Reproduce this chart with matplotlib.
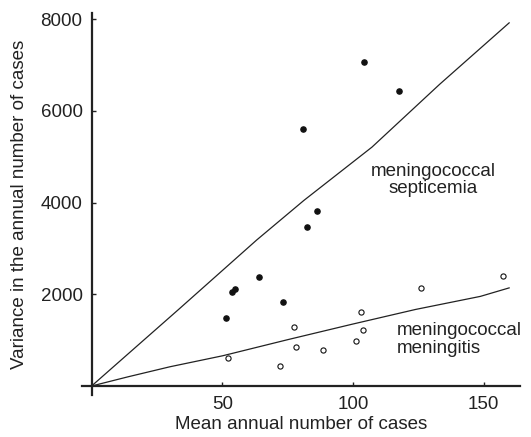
import matplotlib.pyplot as plt

plt.rcParams['font.family'] = ['Liberation Sans', 'DejaVu Sans']

# Meningococcal septicemia (filled points)
sept_mean = [104.3, 117.8, 80.8, 86.4, 82.4, 63.9, 53.6, 55.0, 73.4, 51.6]
sept_var = [7070, 6430, 5600, 3810, 3470, 2380, 2050, 2110, 1835, 1490]

# Meningococcal meningitis (open points)
men_mean = [157.3, 126.0, 103.0, 104.0, 77.6, 101.2, 78.2, 88.6, 52.3, 72.3]
men_var = [2400, 2145, 1610, 1215, 1285, 980, 850, 780, 605, 435]

# Fitted curves
sept_fit_x = [0, 33.3, 63.2, 81.3, 107.3, 133.2, 159.8]
sept_fit_y = [0, 1670, 3185, 4050, 5210, 6580, 7920]
men_fit_x = [0, 13.9, 30, 50.2, 75, 99.5, 124, 148.8, 159.8]
men_fit_y = [0, 200, 420, 660, 1010, 1345, 1670, 1955, 2140]

fig = plt.figure(figsize=(5.31, 4.37), dpi=100)
ax = fig.add_axes([0.154, 0.0961, 0.825, 0.8735])

ax.plot(sept_fit_x, sept_fit_y, color='#222222', lw=0.9)
ax.plot(men_fit_x, men_fit_y, color='#222222', lw=0.9)
ax.scatter(sept_mean, sept_var, s=14, color='#111111', zorder=3)
ax.scatter(men_mean, men_var, s=14, facecolor='white', edgecolor='#111111',
           linewidths=0.8, zorder=3)

ax.text(130.6, 4490, 'meningococcal\nsepticemia', ha='center', va='center',
        fontsize=13.5, color='#222222', linespacing=1.05)
ax.text(116.9, 1020, 'meningococcal\nmeningitis', ha='left', va='center',
        fontsize=13.5, color='#222222', linespacing=1.05)

ax.set_xlim(-3.75, 163.9)
ax.set_ylim(-196, 8129)
for side in ['top', 'right']:
    ax.spines[side].set_visible(False)
ax.spines['left'].set_position(('data', 0))
ax.spines['bottom'].set_position(('data', 0))
for side in ['left', 'bottom']:
    ax.spines[side].set_linewidth(1.6)
    ax.spines[side].set_color('#222222')

ax.set_xticks([50, 100, 150])
ax.set_yticks([2000, 4000, 6000, 8000])
ax.tick_params(direction='in', length=3, width=1, labelsize=13.5,
               colors='#222222')
ax.tick_params(axis='y', pad=6.5)
ax.tick_params(axis='x', pad=7)

ax.set_xlabel('Mean annual number of cases', fontsize=13.5, color='#222222')
ax.set_ylabel('Variance in the annual number of cases', fontsize=13.5, color='#222222')
ax.xaxis.set_label_coords(0.5, -0.055)
ax.yaxis.set_label_coords(-0.1226, 0.5)

fig.savefig('out.png', dpi=100)
